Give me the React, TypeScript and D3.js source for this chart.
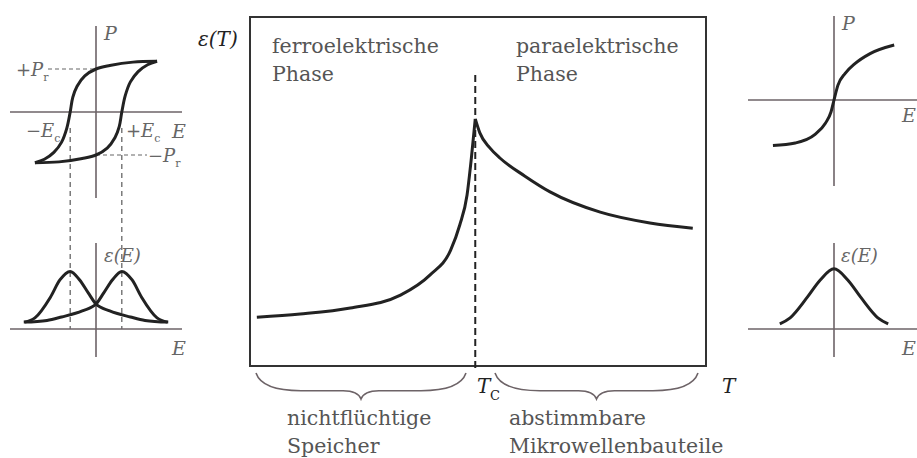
import React from "react";
import * as d3 from "d3";

// Permittivity vs. temperature (relative units), ferroelectric and paraelectric branches
const TC = 49.4;
const ferroT = [1.5, 11, 22, 33, 39.5, 44, 46, 47.6, 48.5, 49.4];
const ferroEps = [14.0, 14.9, 16.6, 20.3, 26.1, 33.2, 40.4, 49.0, 59.0, 70.8];
const paraT = [49.4, 50.4, 52.6, 54.8, 60.3, 65.8, 76.8, 87.7, 97.1];
const paraEps = [70.8, 66.8, 62.5, 59.6, 54.4, 49.9, 44.1, 41.0, 39.5];

// Hysteresis loop P(E), upper (descending field) and lower (ascending field) branches
const loopUpperE = [0.71, 0.43, 0.16, 0.0, -0.13, -0.22, -0.27, -0.3, -0.34, -0.4, -0.49, -0.6, -0.71];
const loopUpperP = [0.59, 0.58, 0.54, 0.5, 0.42, 0.3, 0.17, 0.0, -0.19, -0.35, -0.47, -0.55, -0.59];
const loopLowerE = [-0.71, -0.43, -0.16, 0.0, 0.13, 0.22, 0.27, 0.3, 0.34, 0.4, 0.49, 0.6, 0.71];
const loopLowerP = [-0.59, -0.58, -0.54, -0.5, -0.42, -0.3, -0.17, 0.0, 0.19, 0.35, 0.47, 0.55, 0.59];
const EC = 0.3;
const PR = 0.5;

// Butterfly curve eps(E) of the ferroelectric phase
const butterflyLeftE = [-0.83, -0.71, -0.53, -0.42, -0.3, -0.19, -0.09, 0, 0.16, 0.4, 0.57, 0.84];
const butterflyLeftEps = [0.08, 0.13, 0.37, 0.57, 0.67, 0.57, 0.42, 0.29, 0.21, 0.14, 0.1, 0.08];
const butterflyRightE = [-0.84, -0.57, -0.4, -0.16, 0, 0.09, 0.19, 0.3, 0.42, 0.53, 0.71, 0.83];
const butterflyRightEps = [0.08, 0.1, 0.14, 0.21, 0.29, 0.42, 0.57, 0.67, 0.57, 0.37, 0.13, 0.08];

// Paraelectric P(E) and eps(E)
const paraPE_E = [-0.71, -0.45, -0.22, -0.1, -0.035, 0, 0.045, 0.13, 0.24, 0.42, 0.7];
const paraPE_P = [-0.53, -0.5, -0.4, -0.27, -0.14, 0, 0.17, 0.31, 0.42, 0.54, 0.64];
const bellE = [-0.63, -0.51, -0.31, -0.16, 0, 0.16, 0.31, 0.51, 0.63];
const bellEps = [0.06, 0.13, 0.37, 0.57, 0.7, 0.57, 0.37, 0.13, 0.06];

const zip = (xs: number[], ys: number[]) => xs.map((x, i) => [x, ys[i]] as [number, number]);

const SERIF = "'DejaVu Serif', serif";
const INK = "#222";
const AXIS = "#6d6367";
const LABEL = "#666";
const TEXT = "#555";
const FS = 20.5;

function brace(x1: number, x2: number, y0: number, depth: number) {
  const xm = (x1 + x2) / 2;
  const yb = y0 + depth * 0.68;
  const yt = y0 + depth;
  return `M${x1},${y0} Q${x1 + 6},${yb} ${x1 + 45},${yb} L${xm - 18},${yb} Q${xm - 3},${yb} ${xm},${yt} Q${xm + 3},${yb} ${xm + 18},${yb} L${x2 - 45},${yb} Q${x2 - 6},${yb} ${x2},${y0}`;
}

export default function App() {
  // Main panel scales
  const xT = d3.scaleLinear().domain([0, 100]).range([250, 706]);
  const yEpsT = d3.scaleLinear().domain([0, 100]).range([366, 17]);
  const mainLine = d3
    .line<[number, number]>()
    .x((d) => xT(d[0]))
    .y((d) => yEpsT(d[1]))
    .curve(d3.curveMonotoneX);

  // Left panels (ferroelectric)
  const xL = d3.scaleLinear().domain([-1, 1]).range([10, 182]);
  const yLP = d3.scaleLinear().domain([-1, 1]).range([198, 26]);
  const yLE = d3.scaleLinear().domain([0, 1]).range([329, 243]);
  // Right panels (paraelectric)
  const xR = d3.scaleLinear().domain([-1, 1]).range([748, 920]);
  const yRP = d3.scaleLinear().domain([-1, 1]).range([186, 14]);
  const yRE = d3.scaleLinear().domain([0, 1]).range([329, 243]);

  const mk = (
    sx: d3.ScaleLinear<number, number>,
    sy: d3.ScaleLinear<number, number>,
    curve: d3.CurveFactory
  ) =>
    d3
      .line<[number, number]>()
      .x((d) => sx(d[0]))
      .y((d) => sy(d[1]))
      .curve(curve);

  const loopLine = mk(xL, yLP, d3.curveCatmullRom.alpha(0.5));
  const butterflyLine = mk(xL, yLE, d3.curveMonotoneX);
  const pePara = mk(xR, yRP, d3.curveMonotoneX);
  const bellLine = mk(xR, yRE, d3.curveMonotoneX);

  const xTc = xT(TC);

  return (
    <svg
      width={917}
      height={458}
      style={{ position: "absolute", left: 0, top: 0, background: "#fff" }}
      fontFamily={SERIF}
    >
      {/* ---------- main eps(T) panel ---------- */}
      <rect x={250} y={17} width={456} height={349} fill="none" stroke="#333" strokeWidth={2} />
      <line x1={xTc} x2={xTc} y1={75} y2={372} stroke={INK} strokeWidth={2} strokeDasharray="7,4" />
      <path d={mainLine(zip(ferroT, ferroEps)) || ""} fill="none" stroke={INK} strokeWidth={3} />
      <path d={mainLine(zip(paraT, paraEps)) || ""} fill="none" stroke={INK} strokeWidth={3} />

      <text x={198} y={46} fontSize={20} fontStyle="italic" fill={INK}>ε(T)</text>
      <text x={272} y={53} fontSize={FS} fill={TEXT}>ferroelektrische</text>
      <text x={272} y={81} fontSize={FS} fill={TEXT}>Phase</text>
      <text x={516} y={53} fontSize={FS} fill={TEXT}>paraelektrische</text>
      <text x={516} y={81} fontSize={FS} fill={TEXT}>Phase</text>

      <text x={477} y={393} fontSize={20} fontStyle="italic" fill={INK}>T</text>
      <text x={490} y={400} fontSize={13} fill={INK}>C</text>
      <text x={722} y={393} fontSize={20} fontStyle="italic" fill={INK}>T</text>

      <path d={brace(256, 466, 373, 26)} fill="none" stroke={AXIS} strokeWidth={1.6} />
      <path d={brace(495, 698, 373, 26)} fill="none" stroke={AXIS} strokeWidth={1.6} />
      <text x={287} y={425} fontSize={FS} fill={TEXT}>nichtflüchtige</text>
      <text x={287} y={453} fontSize={FS} fill={TEXT}>Speicher</text>
      <text x={509} y={425} fontSize={FS} fill={TEXT}>abstimmbare</text>
      <text x={509} y={453} fontSize={FS} fill={TEXT}>Mikrowellenbauteile</text>

      {/* ---------- left: hysteresis loop ---------- */}
      <line x1={xL(-1)} x2={xL(1)} y1={yLP(0)} y2={yLP(0)} stroke={AXIS} strokeWidth={1.6} />
      <line x1={xL(0)} x2={xL(0)} y1={yLP(1)} y2={yLP(-1)} stroke={AXIS} strokeWidth={1.6} />
      <line x1={48} x2={xL(0)} y1={yLP(PR)} y2={yLP(PR)} stroke={LABEL} strokeWidth={1.2} strokeDasharray="4,3" />
      <line x1={xL(0)} x2={147} y1={yLP(-PR)} y2={yLP(-PR)} stroke={LABEL} strokeWidth={1.2} strokeDasharray="4,3" />
      <line x1={xL(-EC)} x2={xL(-EC)} y1={128} y2={yLE(0)} stroke={LABEL} strokeWidth={1.3} strokeDasharray="5,4" />
      <line x1={xL(EC)} x2={xL(EC)} y1={128} y2={yLE(0)} stroke={LABEL} strokeWidth={1.3} strokeDasharray="5,4" />
      <path d={loopLine(zip(loopUpperE, loopUpperP)) || ""} fill="none" stroke={INK} strokeWidth={3} />
      <path d={loopLine(zip(loopLowerE, loopLowerP)) || ""} fill="none" stroke={INK} strokeWidth={3} />

      <text x={104} y={40} fontSize={19} fontStyle="italic" fill={LABEL}>P</text>
      <text x={16} y={76} fontSize={18} fill={LABEL}>
        +<tspan fontStyle="italic">P</tspan>
        <tspan fontSize={11} dy={5}>r</tspan>
      </text>
      <text x={26} y={137} fontSize={18} fill={LABEL}>
        −<tspan fontStyle="italic">E</tspan>
        <tspan fontSize={11} dy={5}>c</tspan>
      </text>
      <text x={126} y={137} fontSize={18} fill={LABEL}>
        +<tspan fontStyle="italic">E</tspan>
        <tspan fontSize={11} dy={5}>c</tspan>
      </text>
      <text x={172} y={138} fontSize={19} fontStyle="italic" fill={LABEL}>E</text>
      <text x={148} y={162} fontSize={18} fill={LABEL}>
        −<tspan fontStyle="italic">P</tspan>
        <tspan fontSize={11} dy={5}>r</tspan>
      </text>

      {/* ---------- left: butterfly eps(E) ---------- */}
      <line x1={xL(-1)} x2={xL(1)} y1={yLE(0)} y2={yLE(0)} stroke={AXIS} strokeWidth={1.6} />
      <line x1={xL(0)} x2={xL(0)} y1={243} y2={357} stroke={AXIS} strokeWidth={1.6} />
      <path d={butterflyLine(zip(butterflyLeftE, butterflyLeftEps)) || ""} fill="none" stroke={INK} strokeWidth={3} />
      <path d={butterflyLine(zip(butterflyRightE, butterflyRightEps)) || ""} fill="none" stroke={INK} strokeWidth={3} />
      <text x={104} y={262} fontSize={18} fontStyle="italic" fill={LABEL}>ε(E)</text>
      <text x={172} y={355} fontSize={19} fontStyle="italic" fill={LABEL}>E</text>

      {/* ---------- right: paraelectric P(E) ---------- */}
      <line x1={xR(-1)} x2={xR(1)} y1={yRP(0)} y2={yRP(0)} stroke={AXIS} strokeWidth={1.6} />
      <line x1={xR(0)} x2={xR(0)} y1={16} y2={186} stroke={AXIS} strokeWidth={1.6} />
      <path d={pePara(zip(paraPE_E, paraPE_P)) || ""} fill="none" stroke={INK} strokeWidth={3} />
      <text x={842} y={30} fontSize={19} fontStyle="italic" fill={LABEL}>P</text>
      <text x={902} y={122} fontSize={19} fontStyle="italic" fill={LABEL}>E</text>

      {/* ---------- right: paraelectric eps(E) ---------- */}
      <line x1={xR(-1)} x2={xR(1)} y1={yRE(0)} y2={yRE(0)} stroke={AXIS} strokeWidth={1.6} />
      <line x1={xR(0)} x2={xR(0)} y1={243} y2={357} stroke={AXIS} strokeWidth={1.6} />
      <path d={bellLine(zip(bellE, bellEps)) || ""} fill="none" stroke={INK} strokeWidth={3} />
      <text x={841} y={262} fontSize={18} fontStyle="italic" fill={LABEL}>ε(E)</text>
      <text x={902} y={355} fontSize={19} fontStyle="italic" fill={LABEL}>E</text>
    </svg>
  );
}
